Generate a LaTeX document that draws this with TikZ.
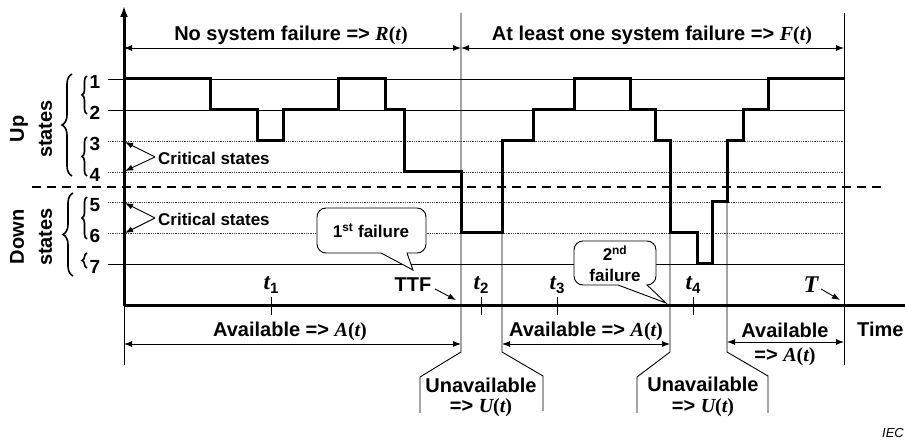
\documentclass[tikz,border=0pt]{standalone}
\usepackage{fontspec}
\setmainfont{Liberation Sans}
\newfontfamily\timesfam{Liberation Serif}
\usetikzlibrary{arrows.meta,decorations.pathreplacing}
% italic variable and function-of-time helpers
\newcommand\ivar[1]{{\timesfam\bfseries\itshape #1}}
\newcommand\funcof[1]{\ivar{#1}{\timesfam\bfseries(}\ivar{t}{\timesfam\bfseries)}}
\newcommand\tsub[1]{{\fontsize{23}{23}\selectfont\ivar{t}}\raisebox{-4pt}{\fontsize{15}{15}\selectfont\bfseries #1}}
\begin{document}
\begin{tikzpicture}[x=1pt,y=-1pt,
  big/.style={font=\fontsize{20}{24}\selectfont\bfseries, inner sep=0pt},
  small/.style={font=\fontsize{17}{20}\selectfont\bfseries, inner sep=0pt},
  numlab/.style={font=\fontsize{19}{20}\selectfont\bfseries, inner sep=0pt},
  thinln/.style={line width=0.9pt},
  levelsolid/.style={line width=0.9pt},
  leveldot/.style={line width=0.9pt, black!75, dash pattern=on 0.9pt off 0.9pt},
  trace/.style={line width=3pt, line join=miter},
  axisln/.style={line width=3pt},
  sep/.style={line width=2.4pt, dash pattern=on 9pt off 6pt},
  arr/.style={line width=0.9pt, -{Latex[length=8pt,width=6pt]}},
  dblarr/.style={line width=0.9pt, {Latex[length=8pt,width=6pt]}-{Latex[length=8pt,width=6pt]}},
  bigbrace/.style={line width=1.6pt, decorate, decoration={brace, amplitude=10pt}},
  smallbrace/.style={line width=1.6pt, decorate, decoration={brace, amplitude=5pt}},
  bubble/.style={line width=0.9pt, fill=white}
]
\useasboundingbox (0,0) rectangle (905,443);

% state levels with their numbers
\foreach \n/\y/\s in {1/79/levelsolid,2/110/levelsolid,3/141/leveldot,4/172/leveldot,
                      5/202/leveldot,6/233/leveldot,7/264/levelsolid}{
  \draw[\s] (108,\y) -- (844,\y);
  \node[numlab] (lv\n) at (95,\y+3) {\n};
}

% boundary between up and down states
\draw[sep] (32,187) -- (885,187);

% braces grouping the states
\draw[bigbrace] (72,176) -- (72,74);
\draw[smallbrace] (87,114) -- (87,76);
\draw[smallbrace] (87,176) -- (87,137);
\draw[bigbrace] (73,276) -- (73,193);
\draw[smallbrace] (87,239) -- (87,197);
\draw[smallbrace] (87,268) -- (87,253);
\node[big, rotate=90, align=center, font=\fontsize{20}{28}\selectfont\bfseries] (up) at (31,129) {Up\\states};
\node[big, rotate=90, align=center, font=\fontsize{20}{28}\selectfont\bfseries] (down) at (31,237) {Down\\states};

% critical states
\node[small, anchor=west] (crit1) at (158,158) {Critical states};
\node[small, anchor=west] (crit2) at (158,219) {Critical states};
\coordinate (c1) at (155,157);
\coordinate (c2) at (155,218);
\coordinate (s3) at (125,142);
\coordinate (s4) at (125,171);
\coordinate (s5) at (125,203);
\coordinate (s6) at (125,233);
\draw[arr] (c1) -- (s3);
\draw[arr] (c1) -- (s4);
\draw[arr] (c2) -- (s5);
\draw[arr] (c2) -- (s6);

% system state over time
\draw[trace] (124,79) -- (210,79) -- (210,110) -- (257,110) -- (257,141) -- (283,141)
  -- (283,110) -- (338,110) -- (338,79) -- (385,79) -- (385,110) -- (404,110)
  -- (404,172) -- (461,172) -- (461,233) -- (502,233) -- (502,141) -- (533,141)
  -- (533,110) -- (574,110) -- (574,79) -- (630,79) -- (630,110) -- (655,110)
  -- (655,141) -- (670,141) -- (670,233) -- (697,233) -- (697,264) -- (712,264)
  -- (712,202) -- (727,202) -- (727,141) -- (743,141) -- (743,110) -- (768,110)
  -- (768,79) -- (844,79);

% interval boundaries and the unavailable brackets
\draw[thinln] (461,13) -- (461,352) -- (420,377) -- (420,413);
\draw[thinln] (502,233) -- (502,352) -- (543,376) -- (543,411);
\draw[thinln] (670,233) -- (670,352) -- (637,377) -- (637,413);
\draw[thinln] (727,202) -- (727,352) -- (768,376) -- (768,413);
\draw[thinln] (844,13) -- (844,365);
\draw[thinln] (124,306) -- (124,365);

% axes
\draw[axisln] (124,306) -- (910,306);
\draw[axisln, -{Latex[length=11pt,width=8pt]}] (124,306) -- (124,6);

% top interval arrows
\coordinate (o0) at (124,48);
\coordinate (o1) at (461,48);
\coordinate (o2) at (844,48);
\draw[dblarr] (o0) -- (o1);
\draw[dblarr] (o1) -- (o2);
\node[big] (rel) at (291,35) {No system failure => \funcof{R}};
\node[big] (fail) at (652,35) {At least one system failure => \funcof{F}};

% failure call-outs
\draw[bubble] (381,253) [rounded corners=9pt] -- (317,253) -- (317,208) -- (426,208)
  -- (426,253) [sharp corners] -- (407,253) -- (413,270) -- cycle;
\node[small] (f1) at (371,231) {1\textsuperscript{st} failure};
\draw[bubble] (618,285) [rounded corners=9pt] -- (574,285) -- (574,241) -- (656,241)
  -- (656,285) [sharp corners] -- (647,285) -- (666,303) -- cycle;
\node[small, align=center, font=\fontsize{17}{21}\selectfont\bfseries] (f2) at (615,264) {2\textsuperscript{nd}\\failure};

% time marks
\foreach \k/\x in {1/271,2/481,3/557,4/693}{
  \node[inner sep=0pt] (t\k) at (\x,285) {\tsub{\k}};
  \draw[thinln] (\x,297) -- (\x,315);
}
\node[big] (ttf) at (413,285) {TTF};
\coordinate (ttfend) at (456,300);
\draw[arr] (435,289) -- (ttfend);
\node[inner sep=0pt, font=\fontsize{24}{24}\selectfont] (tT) at (811,285) {\ivar{T}};
\coordinate (tTend) at (840,300);
\draw[arr] (821,289) -- (tTend);

% availability intervals
\coordinate (a0) at (124,344);
\coordinate (a1) at (461,344);
\coordinate (a2) at (502,344);
\coordinate (a3) at (670,344);
\coordinate (a4) at (727,342);
\coordinate (a5) at (844,342);
\draw[dblarr] (a0) -- (a1);
\draw[dblarr] (a2) -- (a3);
\draw[dblarr] (a4) -- (a5);
\node[big] (av1) at (290,331) {Available => \funcof{A}};
\node[big] (av2) at (586,331) {Available => \funcof{A}};
\node[big] (av3) at (785,330) {Available};
\node[big] (av3b) at (785,357) {=> \funcof{A}};
\node[big] (un1) at (481,385) {Unavailable};
\node[big] (un1b) at (481,408) {=> \funcof{U}};
\node[big] (un2) at (703,384) {Unavailable};
\node[big] (un2b) at (703,408) {=> \funcof{U}};

\node[big, anchor=west] (time) at (857,329) {Time};
\node[anchor=east, inner sep=0pt, font=\fontsize{13}{13}\selectfont\itshape] (iec) at (904,433) {IEC};
\end{tikzpicture}
\end{document}
